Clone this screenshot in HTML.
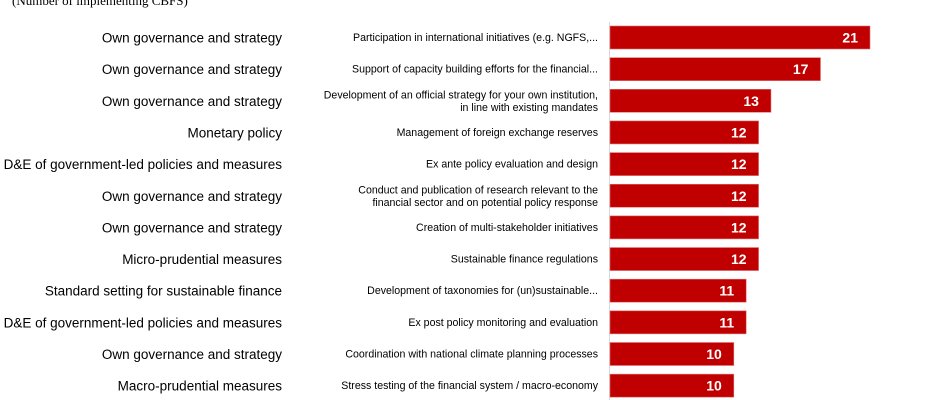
<!DOCTYPE html>
<html><head><meta charset="utf-8">
<style>
html,body{margin:0;padding:0;background:#fff;width:940px;height:400px;overflow:hidden}
svg{display:block}
.cat{font-family:"Liberation Sans",sans-serif;font-size:13.5px;fill:#000}
.sub{font-family:"Liberation Sans",sans-serif;font-size:10.6px;fill:#000}
.val{font-family:"Liberation Sans",sans-serif;font-size:14px;font-weight:bold;fill:#fff}
</style></head>
<body>
<svg id="chart" width="940" height="400" xmlns="http://www.w3.org/2000/svg">
<text x="12" y="5" font-family="Liberation Serif,serif" font-size="13" fill="#000">(Number of implementing CBFS)</text>
<line x1="609.5" y1="22" x2="609.5" y2="400" stroke="#d9d9d9" stroke-width="1"/>
</svg>
<script>
const groups=["Own governance and strategy","Own governance and strategy","Own governance and strategy","Monetary policy","D&E of government-led policies and measures","Own governance and strategy","Own governance and strategy","Micro-prudential measures","Standard setting for sustainable finance","D&E of government-led policies and measures","Own governance and strategy","Macro-prudential measures"];
const measures=[["Participation in international initiatives (e.g. NGFS,..."],["Support of capacity building  efforts for the financial..."],["Development  of an official strategy for your own institution,","in line with existing mandates"],["Management of foreign exchange reserves"],["Ex ante policy evaluation and design"],["Conduct and publication  of research relevant to the","financial sector and on potential policy response"],["Creation of multi-stakeholder  initiatives"],["Sustainable finance regulations"],["Development  of taxonomies for (un)sustainable..."],["Ex post policy monitoring and evaluation"],["Coordination with national climate planning processes"],["Stress testing of the financial system / macro-economy"]];
const values=[21,17,13,12,12,12,12,12,11,11,10,10];
const svg=document.getElementById('chart');
const NS="http://www.w3.org/2000/svg";
const x0=610,unit=260/21;
const xs=v=>x0+v*unit;
const yc=i=>37.5+i*31.65;
function mk(t,a){const e=document.createElementNS(NS,t);for(const k in a)e.setAttribute(k,a[k]);svg.appendChild(e);return e;}
values.forEach((v,i)=>{
 const c=yc(i);
 const r=mk('rect',{x:x0,y:c-11.5,width:xs(v)-x0,height:23,fill:'#c00000',stroke:'#e07070','stroke-width':0.6});
 
 
 const t=mk('text',{x:xs(v)-12,y:c+5,'text-anchor':'end',class:'val'});t.textContent=v;
 
 
 const g=mk('text',{x:282,y:c+5,'text-anchor':'end',class:'cat'});g.textContent=groups[i];
 
 
 const lines=measures[i];
 lines.forEach((ln,j)=>{
  const y=lines.length===1?c+3.5:c-2.5+j*12.5;
  const m=mk('text',{x:598,y:y,'text-anchor':'end',class:'sub'});m.textContent=ln;
  
  
 });
});
</script>
</body></html>
